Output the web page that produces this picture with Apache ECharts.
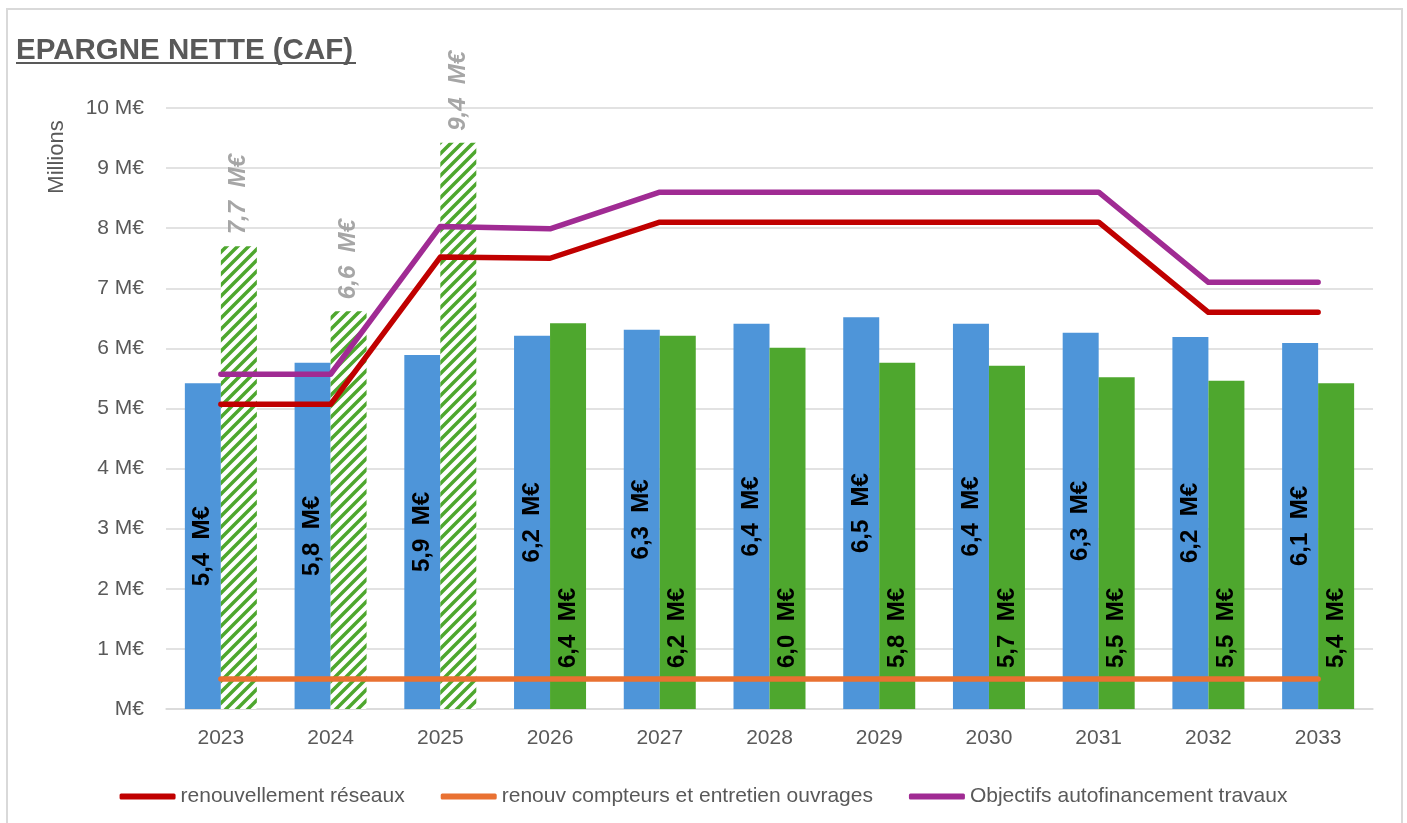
<!DOCTYPE html>
<html>
<head>
<meta charset="utf-8">
<title>Epargne nette (CAF)</title>
<script src="https://cdn.jsdelivr.net/npm/echarts@6/dist/echarts.min.js"></script>
<style>
    html, body { margin: 0; padding: 0; background: #fff; }
    #caf { width: 1407px; height: 823px; }
</style>
</head>
<body>
<div id="caf"></div>
<script>
// Chart data (millions d'euros)
var years = ['2023', '2024', '2025', '2026', '2027', '2028', '2029', '2030', '2031', '2032', '2033'];
var epargneBleu = [5.42, 5.76, 5.89, 6.21, 6.31, 6.41, 6.52, 6.41, 6.26, 6.19, 6.09];
var epargneVert = [7.70, 6.62, 9.42, 6.42, 6.21, 6.01, 5.76, 5.71, 5.52, 5.46, 5.42];
var renouvReseaux = [5.07, 5.07, 7.52, 7.50, 8.10, 8.10, 8.10, 8.10, 8.10, 6.60, 6.60];
var renouvCompteurs = [0.5, 0.5, 0.5, 0.5, 0.5, 0.5, 0.5, 0.5, 0.5, 0.5, 0.5];
var objectifsAutofin = [5.57, 5.57, 8.03, 7.99, 8.60, 8.60, 8.60, 8.60, 8.60, 7.10, 7.10];
var hatchedCount = 3; // 2023-2025 green bars are hatched
var yTicks = [0, 1, 2, 3, 4, 5, 6, 7, 8, 9, 10];

var EchartsCafBars = function() {

    // Hatched fill for the first green bars
    var _hatchPattern = function() {
        var s = 11;
        var c = document.createElement('canvas');
        c.width = s;
        c.height = s;
        var ctx = c.getContext('2d');
        ctx.fillStyle = '#ffffff';
        ctx.fillRect(0, 0, s, s);
        ctx.strokeStyle = '#4EA72E';
        ctx.lineWidth = 3.5;
        ctx.beginPath();
        ctx.moveTo(-2, 2); ctx.lineTo(2, -2);
        ctx.moveTo(0, s); ctx.lineTo(s, 0);
        ctx.moveTo(s - 2, s + 2); ctx.lineTo(s + 2, s - 2);
        ctx.stroke();
        return c;
    };

    var _fmt = function(v) {
        return v.toFixed(1).replace('.', ',') + '  M€';
    };

    var _cafChart = function() {
        if (typeof echarts == 'undefined') {
            console.warn('Warning - echarts.min.js is not loaded.');
            return;
        }

        // Define element
        var caf_element = document.getElementById('caf');
        if (!caf_element) return;

        // Initialize chart
        var caf_chart = echarts.init(caf_element);

        var font = 'Arial, "Liberation Sans", sans-serif';
        var hatch = _hatchPattern();

        // Green bars: hatched + grey label on top for first years
        var vertData = epargneVert.map(function(v, i) {
            if (i < hatchedCount) {
                return {
                    value: v,
                    itemStyle: { color: { image: hatch, repeat: 'repeat' } },
                    label: {
                        position: 'top',
                        distance: 12,
                        align: 'left',
                        verticalAlign: 'middle',
                        color: '#A6A6A6',
                        fontStyle: 'italic'
                    }
                };
            }
            return { value: v };
        });

        // Options
        caf_chart.setOption({

            animation: false,

            // Global text styles
            textStyle: {
                fontFamily: font
            },

            // Title
            title: {
                text: 'EPARGNE NETTE (CAF)',
                left: 11,
                top: 31,
                textStyle: {
                    fontSize: 29.5,
                    fontWeight: 'bold',
                    color: '#595959',
                    fontFamily: font
                }
            },

            // Border, underline, axis name
            graphic: [
                {
                    type: 'rect',
                    shape: { x: 7, y: 9, width: 1395, height: 830 },
                    style: { fill: 'none', stroke: '#D9D9D9', lineWidth: 2 },
                    silent: true
                },
                {
                    type: 'line',
                    shape: { x1: 16, y1: 63, x2: 356, y2: 63 },
                    style: { stroke: '#595959', lineWidth: 2 },
                    silent: true
                },
                {
                    type: 'text',
                    x: 57,
                    y: 157,
                    rotation: Math.PI / 2,
                    style: {
                        text: 'Millions',
                        fill: '#595959',
                        font: '22px ' + font,
                        textAlign: 'center',
                        textVerticalAlign: 'middle'
                    },
                    silent: true
                }
            ],

            // Legend
            legend: {
                data: ['renouvellement réseaux', 'renouv compteurs et entretien ouvrages', 'Objectifs autofinancement travaux'],
                left: 'center',
                top: 781,
                icon: 'roundRect',
                itemWidth: 56,
                itemHeight: 6,
                itemGap: 36,
                textStyle: {
                    color: '#595959',
                    fontSize: 21,
                    fontFamily: font
                }
            },

            grid: {
                left: 166,
                right: 34,
                top: 108,
                bottom: 114,
                containLabel: false
            },

            xAxis: {
                type: 'category',
                data: years,
                axisTick: { show: false },
                axisLine: { lineStyle: { color: '#D9D9D9', width: 1.5 } },
                axisLabel: {
                    color: '#595959',
                    fontSize: 21,
                    margin: 19
                }
            },

            yAxis: {
                type: 'value',
                min: yTicks[0],
                max: yTicks[yTicks.length - 1],
                interval: 1,
                axisLine: { show: false },
                axisTick: { show: false },
                splitLine: { lineStyle: { color: '#D9D9D9', width: 1.5 } },
                axisLabel: {
                    color: '#595959',
                    fontSize: 21,
                    margin: 22,
                    formatter: function(v) {
                        return v === 0 ? 'M€' : v + ' M€';
                    }
                }
            },

            // Series
            series: [
                {
                    name: 'Epargne',
                    type: 'bar',
                    data: epargneBleu,
                    barWidth: 36,
                    barGap: '0%',
                    itemStyle: { color: '#4E95D9' },
                    label: {
                        show: true,
                        position: 'inside',
                        rotate: 90,
                        align: 'center',
                        verticalAlign: 'middle',
                        color: '#000',
                        fontWeight: 'bold',
                        fontSize: 24,
                        formatter: function(p) { return _fmt(p.value); }
                    }
                },
                {
                    name: 'Epargne 2',
                    type: 'bar',
                    data: vertData,
                    barWidth: 36,
                    barGap: '0%',
                    itemStyle: { color: '#4EA72E' },
                    label: {
                        show: true,
                        position: 'insideBottom',
                        distance: 41,
                        rotate: 90,
                        align: 'left',
                        verticalAlign: 'middle',
                        color: '#000',
                        fontWeight: 'bold',
                        fontSize: 24,
                        formatter: function(p) { return _fmt(p.value); }
                    }
                },
                {
                    name: 'renouvellement réseaux',
                    type: 'line',
                    data: renouvReseaux,
                    symbol: 'none',
                    z: 5,
                    itemStyle: { color: '#C00000' },
                    lineStyle: { color: '#C00000', width: 5.5, cap: 'round', join: 'round' }
                },
                {
                    name: 'renouv compteurs et entretien ouvrages',
                    type: 'line',
                    data: renouvCompteurs,
                    symbol: 'none',
                    z: 5,
                    itemStyle: { color: '#E97132' },
                    lineStyle: { color: '#E97132', width: 5.5, cap: 'round', join: 'round' }
                },
                {
                    name: 'Objectifs autofinancement travaux',
                    type: 'line',
                    data: objectifsAutofin,
                    symbol: 'none',
                    z: 5,
                    itemStyle: { color: '#A02B93' },
                    lineStyle: { color: '#A02B93', width: 5.5, cap: 'round', join: 'round' }
                }
            ]
        });
    };

    return {
        init: function() {
            _cafChart();
        }
    };
}();

// Initialize module
document.addEventListener('DOMContentLoaded', function() {
    EchartsCafBars.init();
});
</script>
</body>
</html>
